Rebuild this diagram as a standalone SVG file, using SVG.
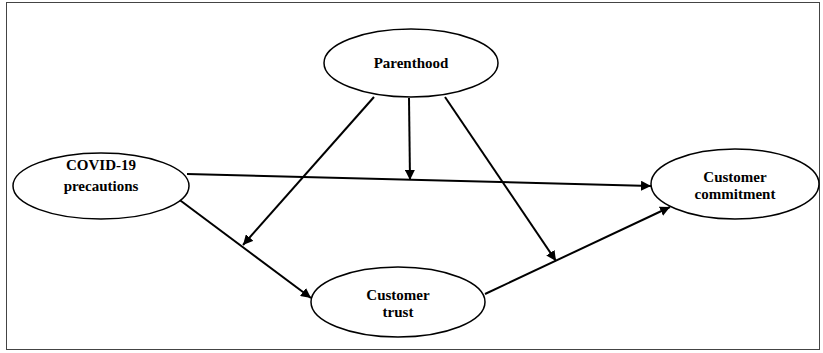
<svg xmlns="http://www.w3.org/2000/svg" width="823" height="353" viewBox="0 0 823 353">
<style>
.node ellipse{fill:#fff;stroke:#000;stroke-width:1.5}
.node text{font-family:"Liberation Serif","Times New Roman",serif;font-weight:bold;font-size:15px;fill:#000;text-anchor:middle}
.edges line{stroke:#000;stroke-width:2;marker-end:url(#ah)}
</style>
<defs>
<marker id="ah" viewBox="0 0 10 10" refX="10" refY="5" markerWidth="5" markerHeight="5" markerUnits="strokeWidth" orient="auto">
<path d="M0,0 L10,5 L0,10 z" fill="#000"/>
</marker>
</defs>
<rect x="6.5" y="2.5" width="813" height="347" fill="#fff" stroke="#444" stroke-width="1"/>
<g class="edges">
<line x1="187" y1="174" x2="651" y2="186"/>
<line x1="409" y1="98" x2="410" y2="180"/>
<line x1="374" y1="97" x2="243" y2="245"/>
<line x1="445" y1="97" x2="556" y2="261"/>
<line x1="173" y1="195" x2="311" y2="298"/>
<line x1="485" y1="294" x2="670" y2="207"/>
</g>
<g id="parenthood" class="node">
<ellipse cx="411" cy="63" rx="87" ry="34"/>
<text x="411" y="68">Parenthood</text>
</g>
<g id="covid" class="node">
<ellipse cx="101" cy="186" rx="88" ry="33"/>
<text x="101" y="170">COVID-19</text>
<text x="101" y="191">precautions</text>
</g>
<g id="commitment" class="node">
<ellipse cx="735" cy="184" rx="84" ry="35"/>
<text x="735" y="182">Customer</text>
<text x="735" y="199">commitment</text>
</g>
<g id="trust" class="node">
<ellipse cx="398" cy="302" rx="87" ry="35"/>
<text x="398" y="300">Customer</text>
<text x="398" y="317">trust</text>
</g>
</svg>
